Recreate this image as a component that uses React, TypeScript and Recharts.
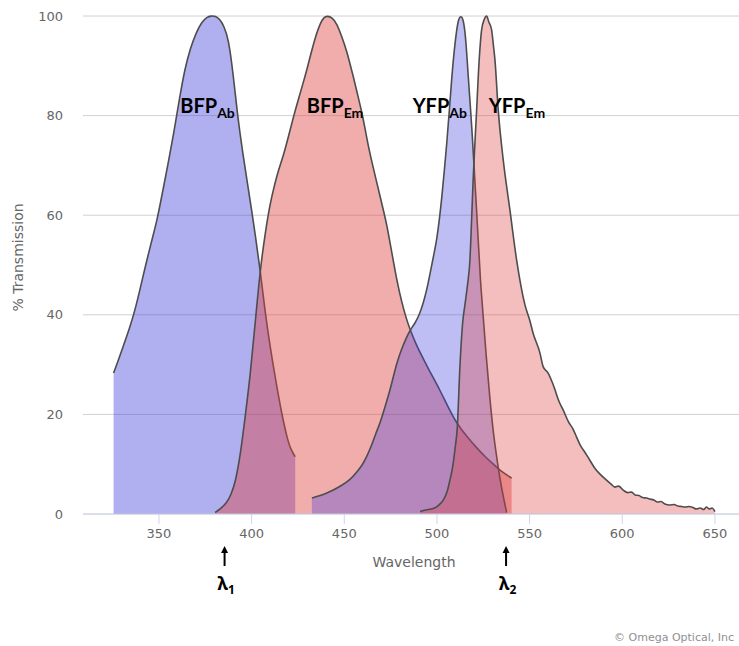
import React from 'react';
import { AreaChart, Area, XAxis, YAxis, CartesianGrid, ReferenceDot } from 'recharts';

// [wavelength nm, % transmission]
const bfpAb: [number, number][] = [
  [325.5, 28.3], [328, 30.8], [331, 34], [334, 37.2], [337, 40.8], [340, 45.5], [343, 50.3], [346, 54.8],
  [349, 59], [352, 64.8], [355, 70.5], [358, 76.5], [361, 83.3], [364, 89.5], [367, 93.6], [370, 96.6],
  [373, 98.8], [376, 99.8], [378, 100], [380.5, 100], [383, 99.3], [385, 98], [387.5, 95.5], [390, 88.5],
  [392.4, 80], [395, 73], [398, 65.8], [400, 61], [402, 56], [404.6, 49], [407.3, 40.5], [410, 33.5],
  [413, 26.8], [416.3, 20], [419, 15.5], [421, 13], [423.5, 11.5],
];

const bfpEm: [number, number][] = [
  [380.3, 0.3], [383, 1], [386.6, 2.2], [389, 4], [391.1, 6.2], [393.8, 11.5], [396.5, 19.5], [399.2, 27.6],
  [401.9, 38.3], [404.6, 49], [407.3, 56.4], [410, 62.4], [412, 65.5], [414, 68.5], [417.2, 72], [420, 76],
  [422.6, 79.8], [425, 83], [428, 86.8], [430, 89.5], [432.5, 93.2], [435, 96.5], [437, 98.5], [439, 99.8],
  [441, 100], [443.3, 99.7], [446, 98.5], [448.5, 96], [451.3, 93], [453, 90.5], [454.9, 87.8], [457, 84.5],
  [459.4, 80.8], [461, 77.8], [463, 73.8], [465, 70.5], [467.5, 66.6], [469.3, 63.8], [471.1, 61], [472.9, 58.2],
  [475.5, 52.8], [478.3, 47], [481, 42.5], [483.5, 39.2], [485.5, 37], [489, 33.8], [492.6, 31.2],
  [497, 28], [501.6, 24.9], [506, 21.5], [510.6, 18.2], [516, 15.6], [521.4, 13.3], [526, 11.5], [532.2, 9.4],
  [534, 8.8], [537, 8], [540.3, 7.2],
];

const yfpAb: [number, number][] = [
  [432.5, 3.2], [436, 3.6], [440, 4.1], [444.1, 4.8], [448, 5.6], [453.1, 6.8], [457, 8.5], [460, 10],
  [462.1, 11.5], [465, 14], [467, 16.2], [469.3, 18.2], [472, 21.5], [474.7, 24.9], [476.5, 27.6], [478.3, 30.3],
  [481, 33.2], [483.7, 35.6], [486, 37.2], [488.2, 38.3], [490.5, 40], [492.6, 42.3], [494.5, 45], [496.3, 48.3],
  [498, 51.5], [499.9, 55], [501.6, 60], [502.6, 63.5], [504, 69], [505.3, 74.4], [506.7, 81], [508, 87.8],
  [509.3, 93], [510.6, 97.2], [511.7, 99.5], [512.8, 100], [514, 99.6], [515.1, 97.2], [516, 93], [516.9, 87.8],
  [518, 82], [519, 76.5], [520, 70], [521.4, 61], [522.5, 53.5], [523.5, 46.5], [524.7, 41], [526.5, 32],
  [528.6, 22.9], [530.5, 16], [532.2, 11.5], [534, 7], [535.8, 3.5], [537.6, 0.3],
];

const yfpEm: [number, number][] = [
  [490.9, 0.5], [494, 0.8], [498, 1.1], [501, 1.8], [503.4, 2.8], [505.5, 4.5], [507, 6.8], [508.5, 9.5],
  [509.7, 12.9], [511, 17.5], [512.4, 29.6], [513.9, 38.5], [515.1, 42], [516.5, 46], [517.8, 51], [518.7, 59],
  [519.6, 67.7], [520.5, 74.5], [521.4, 81], [522.8, 91.2], [524.1, 97.2], [525.5, 99.3], [526.8, 100], [528, 98.8],
  [529.5, 97.2], [530.5, 94], [531.3, 91.2], [533.1, 81], [535.8, 71], [539.4, 61], [543, 51], [547.5, 42],
  [550, 39], [551.9, 36.3], [555.6, 32.3], [557.3, 29.6], [560, 28.3], [562.7, 26], [566, 22.5], [568.1, 20.9],
  [571, 18.5], [573.5, 17], [575.3, 15.5], [577.1, 14], [580, 12.3], [582.5, 10.8], [585, 9.3], [588, 8],
  [591.5, 6.8], [594, 6], [596, 5.4], [598, 5.6], [600.5, 4.8], [603, 4.3], [605, 4.4], [607, 3.8],
  [609, 3.7], [611, 3.3], [613.1, 3.2], [615, 3.0], [617, 2.8], [619, 2.4], [621, 2.5], [623, 2.0],
  [625.6, 1.8], [628, 1.9], [630, 1.6], [632, 1.5], [634, 1.4], [636, 1.5], [638.2, 1.3], [640, 1.0],
  [642, 1.2], [644, 0.9], [645.4, 1.4], [647, 1.0], [648.5, 1.2], [650, 0.5],
];

const xTicks = [350, 400, 450, 500, 550, 600, 650];
const yTicks = [0, 20, 40, 60, 80, 100];

const seriesLabels = [
  { key: 'bfpAb', main: 'BFP', sub: 'Ab', wl: 361.5 },
  { key: 'bfpEm', main: 'BFP', sub: 'Em', wl: 429.8 },
  { key: 'yfpAb', main: 'YFP', sub: 'Ab', wl: 486.9 },
  { key: 'yfpEm', main: 'YFP', sub: 'Em', wl: 528 },
];
const labelLevel = 80;

const markers = [
  { sub: '1', wl: 385.4 },
  { sub: '2', wl: 537.3 },
];

const series = [
  { key: 'bfpAb', points: bfpAb, color: '#4040de', opacity: 0.41, curve: 'basis' },
  { key: 'bfpEm', points: bfpEm, color: '#de4040', opacity: 0.435, curve: 'basis' },
  { key: 'yfpAb', points: yfpAb, color: '#4040de', opacity: 0.34, curve: 'basis' },
  { key: 'yfpEm', points: yfpEm, color: '#de4040', opacity: 0.34, curve: 'monotone' },
];

const rows = (() => {
  const map = new Map<number, any>();
  series.forEach((s) => {
    s.points.forEach(([wl, v]) => {
      if (!map.has(wl)) map.set(wl, { wl });
      map.get(wl)[s.key] = v;
    });
  });
  return Array.from(map.values()).sort((a, b) => a.wl - b.wl);
})();

const W = 739;
const H = 646;
const tickFont = 'DejaVu Sans, Verdana, sans-serif';

const SeriesLabel = (props: any) => {
  const { cx, cy, main, sub } = props;
  return (
    <text x={cx} y={cy - 3} fontFamily="Lato, Carlito, sans-serif" fontWeight={700} fontSize={20} fill="#000">
      <tspan>{main}</tspan>
      <tspan dy={5} fontSize={14}>{sub}</tspan>
    </text>
  );
};

const Marker = (props: any) => {
  const { cx, cy, sub } = props;
  return (
    <g>
      <line x1={cx} y1={cy + 38} x2={cx} y2={cy + 52} stroke="#000" strokeWidth={2} />
      <polygon points={`${cx - 3.5},${cy + 39} ${cx + 3.5},${cy + 39} ${cx},${cy + 32}`} fill="#000" />
      <text x={cx - 7} y={cy + 76} fontFamily="Noto Sans, DejaVu Sans, sans-serif" fontWeight={700} fontSize={18} fill="#000">
        <tspan>λ</tspan>
        <tspan dy={4} fontSize={12}>{sub}</tspan>
      </text>
    </g>
  );
};

export default function App() {
  return (
    <div style={{ position: 'absolute', left: 0, top: 0, width: W, height: H, overflow: 'hidden', background: '#fff' }}>
      <AreaChart width={W} height={H} data={rows} margin={{ top: 16, right: 0, bottom: 72, left: 0 }}>
        <CartesianGrid vertical={false} stroke="#d0d0d0" strokeWidth={1} />
        <XAxis
          dataKey="wl"
          type="number"
          domain={[309, 663]}
          ticks={xTicks}
          allowDataOverflow
          height={60}
          tickSize={10}
          tickMargin={5}
          stroke="#ccd6eb"
          tick={{ fill: '#666', fontSize: 13, fontFamily: tickFont }}
        />
        <YAxis
          type="number"
          domain={[0, 100]}
          ticks={yTicks}
          width={83}
          axisLine={false}
          tickLine={false}
          tickSize={0}
          tickMargin={20}
          tick={{ fill: '#666', fontSize: 13, fontFamily: tickFont }}
        />
        {series.map((s) => (
          <Area
            key={s.key}
            dataKey={s.key}
            type={s.curve as any}
            connectNulls
            stroke="#4d4d4d"
            strokeWidth={1.6}
            fill={s.color}
            fillOpacity={s.opacity}
            dot={false}
            activeDot={false}
            isAnimationActive={false}
          />
        ))}
        {seriesLabels.map((l) => (
          <ReferenceDot
            key={'lab' + l.key}
            x={l.wl}
            y={labelLevel}
            r={1}
            ifOverflow="visible"
            shape={(p: any) => <SeriesLabel {...p} main={l.main} sub={l.sub} />}
          />
        ))}
        {markers.map((m) => (
          <ReferenceDot
            key={'mk' + m.sub}
            x={m.wl}
            y={0}
            r={1}
            ifOverflow="visible"
            shape={(p: any) => <Marker {...p} sub={m.sub} />}
          />
        ))}
      </AreaChart>
      <svg width={W} height={H} style={{ position: 'absolute', left: 0, top: 0, pointerEvents: 'none' }}>
        <text
          x={18.3}
          y={257.5}
          transform="rotate(-90 18.3 257.5)"
          textAnchor="middle"
          dominantBaseline="central"
          fontFamily={tickFont}
          fontSize={14}
          fill="#666"
        >
          % Transmission
        </text>
        <text x={414} y={567} textAnchor="middle" fontFamily={tickFont} fontSize={14} fill="#666">
          Wavelength
        </text>
        <text x={734} y={641} textAnchor="end" fontFamily={tickFont} fontSize={11} fill="#909090">
          © Omega Optical, Inc
        </text>
      </svg>
    </div>
  );
}
